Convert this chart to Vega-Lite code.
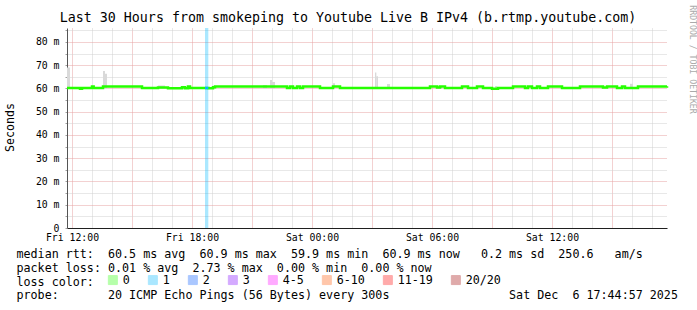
{
  "$schema": "https://vega.github.io/schema/vega-lite/v6.json",
  "width": 600,
  "height": 200,
  "autosize": {"type": "none"},
  "padding": {"left": 67, "top": 28, "right": 30, "bottom": 82},
  "background": "white",
  "title": {
    "text": "Last 30 Hours from smokeping to Youtube Live B IPv4 (b.rtmp.youtube.com)",
    "font": "DejaVu Sans Mono", "fontSize": 13.3, "fontWeight": "normal", "color": "black",
    "anchor": "middle", "frame": "group", "dx": -19, "dy": 23, "offset": 3
  },
  "config": {"view": {"stroke": null}},
  "datasets": {
    "median": [
      {"t": "2025-12-05T11:45Z", "rtt": 60.2, "loss": "0"},
      {"t": "2025-12-05T12:24Z", "rtt": 59.9, "loss": "0"},
      {"t": "2025-12-05T12:30Z", "rtt": 60.2, "loss": "0"},
      {"t": "2025-12-05T13:00Z", "rtt": 60.8, "loss": "0"},
      {"t": "2025-12-05T13:05Z", "rtt": 60.2, "loss": "0"},
      {"t": "2025-12-05T13:33Z", "rtt": 60.8, "loss": "0"},
      {"t": "2025-12-05T15:30Z", "rtt": 60.2, "loss": "0"},
      {"t": "2025-12-05T16:18Z", "rtt": 60.4, "loss": "0"},
      {"t": "2025-12-05T16:48Z", "rtt": 60.1, "loss": "0"},
      {"t": "2025-12-05T17:30Z", "rtt": 60.5, "loss": "0"},
      {"t": "2025-12-05T17:39Z", "rtt": 60.1, "loss": "0"},
      {"t": "2025-12-05T17:48Z", "rtt": 60.8, "loss": "0"},
      {"t": "2025-12-05T17:54Z", "rtt": 60.2, "loss": "0"},
      {"t": "2025-12-05T18:50Z", "rtt": 60.1, "loss": "0"},
      {"t": "2025-12-05T19:03Z", "rtt": 60.5, "loss": "0"},
      {"t": "2025-12-05T19:09Z", "rtt": 60.8, "loss": "0"},
      {"t": "2025-12-05T22:45Z", "rtt": 60.2, "loss": "0"},
      {"t": "2025-12-05T22:54Z", "rtt": 60.8, "loss": "0"},
      {"t": "2025-12-05T23:03Z", "rtt": 60.2, "loss": "0"},
      {"t": "2025-12-05T23:15Z", "rtt": 60.8, "loss": "0"},
      {"t": "2025-12-05T23:24Z", "rtt": 60.2, "loss": "0"},
      {"t": "2025-12-05T23:33Z", "rtt": 60.8, "loss": "0"},
      {"t": "2025-12-06T00:24Z", "rtt": 60.2, "loss": "0"},
      {"t": "2025-12-06T01:03Z", "rtt": 60.8, "loss": "0"},
      {"t": "2025-12-06T01:24Z", "rtt": 60.2, "loss": "0"},
      {"t": "2025-12-06T05:54Z", "rtt": 60.8, "loss": "0"},
      {"t": "2025-12-06T06:15Z", "rtt": 60.4, "loss": "0"},
      {"t": "2025-12-06T06:24Z", "rtt": 60.8, "loss": "0"},
      {"t": "2025-12-06T06:39Z", "rtt": 60.2, "loss": "0"},
      {"t": "2025-12-06T07:30Z", "rtt": 60.8, "loss": "0"},
      {"t": "2025-12-06T07:48Z", "rtt": 60.2, "loss": "0"},
      {"t": "2025-12-06T08:15Z", "rtt": 60.8, "loss": "0"},
      {"t": "2025-12-06T08:33Z", "rtt": 60.2, "loss": "0"},
      {"t": "2025-12-06T09:00Z", "rtt": 59.9, "loss": "0"},
      {"t": "2025-12-06T09:18Z", "rtt": 60.2, "loss": "0"},
      {"t": "2025-12-06T10:03Z", "rtt": 60.8, "loss": "0"},
      {"t": "2025-12-06T10:39Z", "rtt": 60.2, "loss": "0"},
      {"t": "2025-12-06T10:48Z", "rtt": 60.8, "loss": "0"},
      {"t": "2025-12-06T11:00Z", "rtt": 60.2, "loss": "0"},
      {"t": "2025-12-06T11:15Z", "rtt": 60.8, "loss": "0"},
      {"t": "2025-12-06T11:24Z", "rtt": 60.2, "loss": "0"},
      {"t": "2025-12-06T11:48Z", "rtt": 60.8, "loss": "0"},
      {"t": "2025-12-06T12:30Z", "rtt": 60.2, "loss": "0"},
      {"t": "2025-12-06T13:24Z", "rtt": 60.8, "loss": "0"},
      {"t": "2025-12-06T14:33Z", "rtt": 60.4, "loss": "0"},
      {"t": "2025-12-06T14:45Z", "rtt": 60.8, "loss": "0"},
      {"t": "2025-12-06T15:15Z", "rtt": 60.2, "loss": "0"},
      {"t": "2025-12-06T15:30Z", "rtt": 60.8, "loss": "0"},
      {"t": "2025-12-06T15:39Z", "rtt": 60.2, "loss": "0"},
      {"t": "2025-12-06T16:18Z", "rtt": 60.8, "loss": "0"},
      {"t": "2025-12-06T17:45Z", "rtt": 60.9, "loss": "0"}
    ],
    "smoke": [
      {"t": "2025-12-05T11:45Z", "t2": "2025-12-05T11:54Z", "lo": 60.0, "hi": 69.0},
      {"t": "2025-12-05T13:33Z", "t2": "2025-12-05T13:39Z", "lo": 60.0, "hi": 67.5},
      {"t": "2025-12-05T13:39Z", "t2": "2025-12-05T13:45Z", "lo": 60.0, "hi": 66.3},
      {"t": "2025-12-05T16:18Z", "t2": "2025-12-05T16:39Z", "lo": 60.0, "hi": 61.3},
      {"t": "2025-12-05T17:30Z", "t2": "2025-12-05T17:39Z", "lo": 60.0, "hi": 61.1},
      {"t": "2025-12-05T21:33Z", "t2": "2025-12-05T21:45Z", "lo": 60.0, "hi": 61.5},
      {"t": "2025-12-05T21:54Z", "t2": "2025-12-05T22:00Z", "lo": 60.0, "hi": 63.6},
      {"t": "2025-12-05T22:00Z", "t2": "2025-12-05T22:09Z", "lo": 60.0, "hi": 62.8},
      {"t": "2025-12-06T01:03Z", "t2": "2025-12-06T01:09Z", "lo": 60.0, "hi": 62.2},
      {"t": "2025-12-06T03:09Z", "t2": "2025-12-06T03:13Z", "lo": 60.0, "hi": 66.9},
      {"t": "2025-12-06T03:13Z", "t2": "2025-12-06T03:18Z", "lo": 60.0, "hi": 65.2},
      {"t": "2025-12-06T03:45Z", "t2": "2025-12-06T03:54Z", "lo": 60.0, "hi": 61.9},
      {"t": "2025-12-06T06:18Z", "t2": "2025-12-06T06:30Z", "lo": 60.0, "hi": 61.1},
      {"t": "2025-12-06T09:09Z", "t2": "2025-12-06T09:15Z", "lo": 60.0, "hi": 61.1},
      {"t": "2025-12-06T15:54Z", "t2": "2025-12-06T16:03Z", "lo": 60.0, "hi": 62.0}
    ],
    "lossbar": [
      {"t": "2025-12-05T18:39Z", "t2": "2025-12-05T18:49Z", "rtt": 60.2, "loss": "1"}
    ]
  },
  "resolve": {"axis": {"y": "independent"}},
  "layer": [
    {
      "data": {"name": "smoke"},
      "mark": {"type": "rect", "color": "#d9d9d9"},
      "encoding": {
        "x": {
          "field": "t", "type": "temporal",
          "scale": {"type": "utc", "domain": [1764935100000, 1765043100000]},
          "axis": {
            "title": [
              "median rtt:\u00a0\u00a060.5 ms avg\u00a0\u00a060.9 ms max\u00a0\u00a059.9 ms min\u00a0\u00a060.9 ms now\u00a0\u00a0\u00a00.2 ms sd\u00a0\u00a0250.6\u00a0\u00a0\u00a0am/s",
              "packet loss: 0.01 % avg\u00a0\u00a02.73 % max\u00a0\u00a00.00 % min\u00a0\u00a00.00 % now",
              "loss color:",
              "probe:\u00a0\u00a0\u00a0\u00a0\u00a0\u00a0\u00a020 ICMP Echo Pings (56 Bytes) every 300s\u00a0\u00a0\u00a0\u00a0\u00a0\u00a0\u00a0\u00a0\u00a0\u00a0\u00a0\u00a0\u00a0\u00a0\u00a0\u00a0\u00a0Sat Dec\u00a0\u00a06 17:44:57 2025"
            ],
            "titleFont": "DejaVu Sans Mono", "titleFontSize": 11.7, "titleFontWeight": "normal", "titleColor": "black",
            "titleAnchor": "start", "titleAlign": "left", "titleBaseline": "alphabetic",
            "titleX": -51, "titleY": 29.5, "titleLineHeight": 13.8,
            "tickCount": 30,
            "labelExpr": "utchours(datum.value) % 6 == 0 ? utcFormat(datum.value, '%a %H:%M') : ''",
            "labelFont": "DejaVu Sans Mono", "labelFontSize": 9.8, "labelColor": "black",
            "labelPadding": 4, "labelOverlap": false,
            "ticks": false, "domainColor": "#1f1f1f",
            "grid": true, "gridDash": [1, 1],
            "gridColor": {"condition": {"test": "utchours(datum.value) % 3 == 0", "value": "#e6a3a3"}, "value": "#d0d0d0"}
          }
        },
        "x2": {"field": "t2"},
        "y": {
          "field": "lo", "type": "quantitative",
          "scale": {"domain": [0, 86], "nice": false},
          "axis": {
            "title": "Seconds", "titleFont": "DejaVu Sans Mono", "titleFontSize": 11.6, "titleFontWeight": "normal", "titleColor": "black",
            "titleX": -52, "titleY": 99,
            "tickCount": 18,
            "labelExpr": "datum.value % 10 == 0 ? (datum.value == 0 ? '0  ' : datum.value + ' m') : ''",
            "labelFont": "DejaVu Sans Mono", "labelFontSize": 9.8, "labelColor": "black", "labelPadding": 6,
            "labelOverlap": false,
            "tickSize": 2, "tickColor": "#a0a0a0",
            "domainColor": "#555555",
            "grid": true, "gridDash": [1, 1],
            "gridColor": {"condition": {"test": "datum.value % 10 == 0", "value": "#e6a3a3"}, "value": "#d0d0d0"}
          }
        },
        "y2": {"field": "hi"}
      }
    },
    {
      "data": {"name": "lossbar"},
      "mark": {"type": "rect", "opacity": 0.33},
      "encoding": {
        "x": {"field": "t", "type": "temporal"},
        "x2": {"field": "t2"},
        "color": {"field": "loss", "type": "nominal"}
      }
    },
    {
      "data": {"name": "median"},
      "mark": {"type": "line", "interpolate": "step-after", "strokeWidth": 2.5},
      "encoding": {
        "x": {"field": "t", "type": "temporal"},
        "y": {
          "field": "rtt", "type": "quantitative",
          "axis": {
            "orient": "right", "title": "RRDTOOL / TOBI OETIKER",
            "titleFont": "DejaVu Sans Mono", "titleFontSize": 8.2, "titleFontWeight": "normal", "titleColor": "#aaaaaa",
            "titleAngle": 90, "titleX": 20.5, "titleY": 31,
            "labels": false, "ticks": false, "domain": false, "grid": false
          }
        },
        "color": {
          "field": "loss", "type": "nominal",
          "scale": {
            "domain": ["0", "1", "2", "3", "4-5", "6-10", "11-19", "20/20"],
            "range": ["#26ff00", "#00b8ff", "#0059ff", "#7e00ff", "#ff00ff", "#ff5500", "#ff0000", "#a10000"]
          },
          "legend": {
            "orient": "none", "legendX": 40, "legendY": 246,
            "direction": "horizontal", "columns": 8, "title": null,
            "symbolType": "square", "symbolSize": 81, "symbolStrokeWidth": 1, "symbolStrokeColor": "black", "symbolOpacity": 1,
            "labelFont": "DejaVu Sans Mono", "labelFontSize": 11.7, "labelColor": "black", "labelOffset": 4,
            "columnPadding": 16, "rowPadding": 0, "padding": 0
          }
        }
      }
    },
    {
      "data": {"name": "lossbar"},
      "mark": {"type": "rule", "strokeWidth": 2.5},
      "encoding": {
        "x": {"field": "t", "type": "temporal"},
        "x2": {"field": "t2"},
        "y": {"field": "rtt", "type": "quantitative", "axis": null},
        "color": {"field": "loss", "type": "nominal"}
      }
    }
  ]
}
